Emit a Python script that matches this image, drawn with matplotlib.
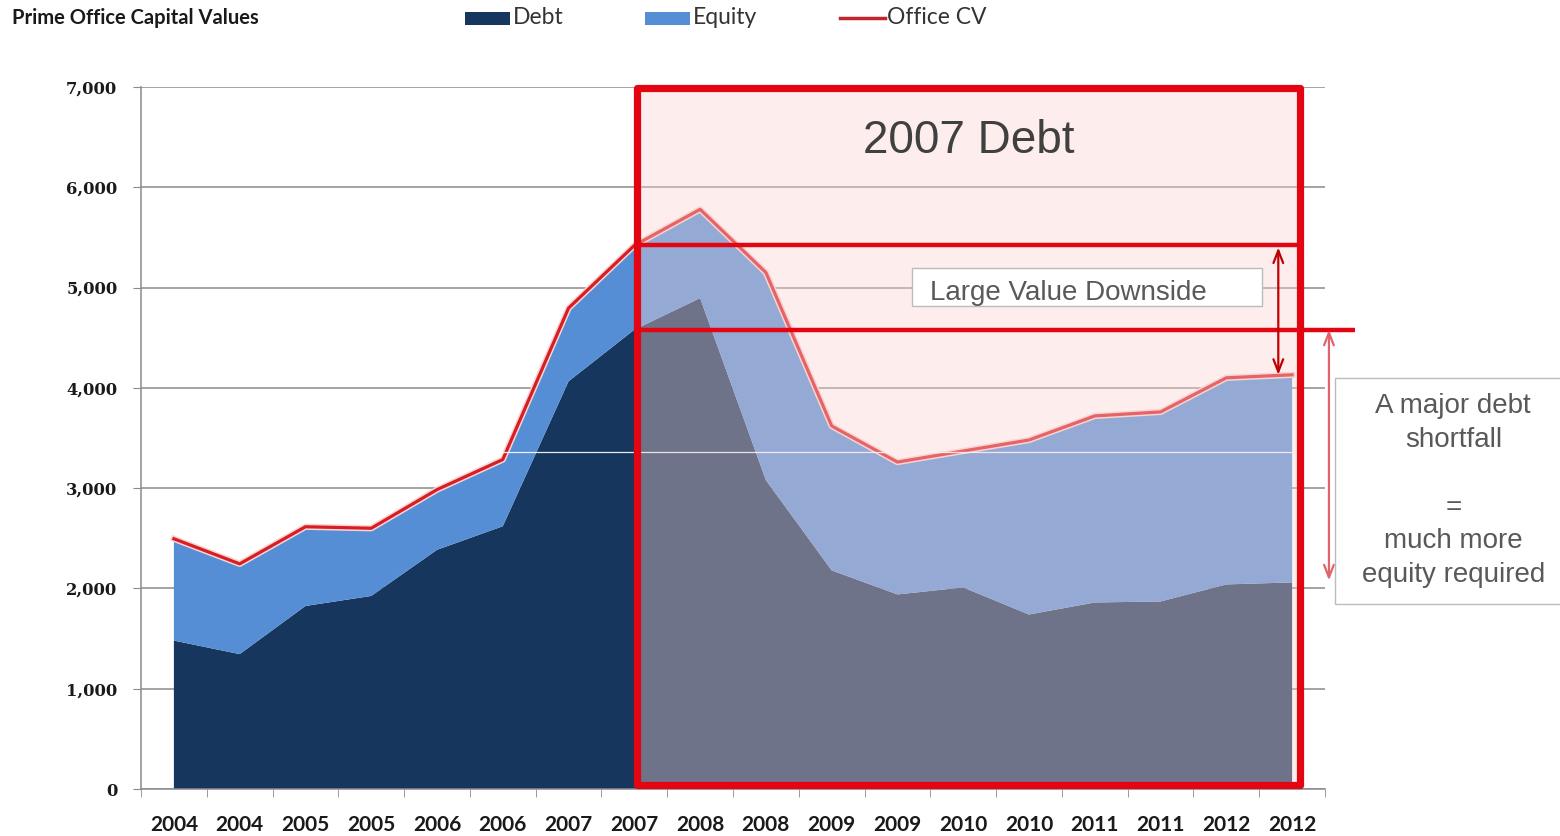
import matplotlib
matplotlib.use("Agg")
import matplotlib.pyplot as plt
from matplotlib.patches import Rectangle
from matplotlib.lines import Line2D
import matplotlib.patheffects as pe
import numpy as np

# ---------------- data ----------------
periods = ["2004", "2004", "2005", "2005", "2006", "2006", "2007", "2007", "2008",
           "2008", "2009", "2009", "2010", "2010", "2011", "2011", "2012", "2012"]
debt = [1480, 1345, 1825, 1925, 2385, 2620, 4065, 4580, 4895,
        3080, 2180, 1940, 2010, 1740, 1860, 1870, 2040, 2060]
office_cv = [2495, 2245, 2615, 2600, 2985, 3285, 4795, 5420, 5780,
             5150, 3620, 3260, 3370, 3480, 3720, 3760, 4100, 4130]
y_ticks = [0, 1000, 2000, 3000, 4000, 5000, 6000, 7000]

equity = [c - d for c, d in zip(office_cv, debt)]

NAVY = "#17365d"
BLUE = "#558ed5"
LINE_RED = "#d81e25"
BOX_RED = "#e30612"
GRID = "#8a8a8a"
TXT = "#595959"

W, H = 1560, 836
fig = plt.figure(figsize=(W / 100, H / 100), dpi=100)
ax = fig.add_axes([141 / W, 1 - 789 / H, (1325 - 141) / W, (789 - 87) / H])

x = np.arange(len(periods))
ax.stackplot(x, debt, equity, colors=[NAVY, BLUE], zorder=1, linewidth=0)
ax.plot(x, office_cv, color=LINE_RED, lw=2.3, zorder=2,
        path_effects=[pe.Stroke(linewidth=4.5, foreground="#f8d4d4"), pe.Normal()])

ax.set_xlim(-0.5, len(periods) - 0.5)
ax.set_ylim(0, 7000)

# grid
ax.set_yticks(y_ticks)
ax.set_yticklabels([f"{v:,}" for v in y_ticks], family="DejaVu Serif", fontsize=11.8,
                   fontweight="bold", color="#1a1a1a")
ax.yaxis.grid(True, color=GRID, lw=1.1, zorder=0)
ax.set_axisbelow(True)

ax.set_xticks(x)
ax.set_xticklabels(periods, family="Lato", fontweight="bold", fontsize=15, color="#1a1a1a")
ax.set_xticks(np.arange(-0.5, len(periods), 1), minor=True)
ax.tick_params(axis="x", which="major", length=0, pad=19)
ax.tick_params(axis="x", which="minor", length=6, color=GRID, direction="out")
ax.tick_params(axis="y", length=6, color=GRID, pad=11)

for s in ["top", "right"]:
    ax.spines[s].set_visible(False)
for s in ["left", "bottom"]:
    ax.spines[s].set_color(GRID)
    ax.spines[s].set_linewidth(1.1)

# thin white artifact line across the chart
ax.axhline(3360, color="white", lw=0.9, zorder=2.5, alpha=0.9)

# ------------- 2007 Debt overlay box -------------
i07 = 7
bx0, bx1 = i07 + 0.04, len(periods) - 1 + 0.12
ax.add_patch(Rectangle((bx0, 0), bx1 - bx0, 7000, facecolor=(250 / 255, 212 / 255, 210 / 255),
                       alpha=0.39, edgecolor="none", zorder=3, clip_on=False))
ax.add_patch(Rectangle((bx0, 40), bx1 - bx0, 6950, facecolor="none", edgecolor=BOX_RED,
                       lw=5.2, zorder=5, clip_on=False, joinstyle="round"))

ax.plot([bx0, bx1], [office_cv[i07], office_cv[i07]], color=BOX_RED, lw=3.2, zorder=5,
        solid_capstyle="butt", clip_on=False)
ax.plot([bx0, 17.96], [debt[i07], debt[i07]], color=BOX_RED, lw=3.2, zorder=5,
        solid_capstyle="butt", clip_on=False)

ax.text((bx0 + bx1) / 2, 6460, "2007 Debt", ha="center", va="center", fontsize=33,
        family="Liberation Sans", color="#404040", zorder=6)

# arrows
ax.annotate("", xy=(16.79, office_cv[-1]), xytext=(16.79, office_cv[i07] - 20),
            arrowprops=dict(arrowstyle="<->,head_length=0.9,head_width=0.35",
                            color="#c00000", lw=1.6, shrinkA=0, shrinkB=0),
            zorder=6, annotation_clip=False)
ax.annotate("", xy=(17.56, debt[-1] + 20), xytext=(17.56, debt[i07]),
            arrowprops=dict(arrowstyle="<->,head_length=0.9,head_width=0.35",
                            color="#e2636c", lw=1.6, shrinkA=0, shrinkB=0),
            zorder=6, annotation_clip=False)

# text boxes
ax.add_patch(Rectangle((11.22, 4816), 16.54 - 11.22, 5195 - 4816, facecolor="white",
                       edgecolor="#bcbcbc", lw=1.0, zorder=6, clip_on=False))
ax.text(11.50, 4950, "Large Value Downside", ha="left", va="center", fontsize=20,
        family="Liberation Sans", color=TXT, zorder=7)

ax.add_patch(Rectangle((17.65, 1845), 4.0, 4098 - 1845, facecolor="white",
                       edgecolor="#bcbcbc", lw=1.0, zorder=6, clip_on=False))
ax.text(19.45, 2975, "A major debt\nshortfall\n\n=\nmuch more\nequity required",
        ha="center", va="center", fontsize=20, family="Liberation Sans", color=TXT,
        linespacing=1.39, zorder=7)

# ------------- header / legend -------------
def fx(px):
    return px / W

def fy(py):
    return 1 - py / H

fig.text(fx(12), fy(18), "Prime Office Capital Values", fontsize=14.5, fontweight="bold",
         family="Lato", color="#1a1a1a", va="center", ha="left")
fig.patches.append(Rectangle((fx(465), fy(25)), fx(510) - fx(465), fy(12) - fy(25),
                             transform=fig.transFigure, facecolor=NAVY, edgecolor="none"))
fig.text(fx(513), fy(18), "Debt", fontsize=16.5, family="Lato", color="#333333",
         va="center", ha="left")
fig.patches.append(Rectangle((fx(645), fy(25)), fx(690) - fx(645), fy(12) - fy(25),
                             transform=fig.transFigure, facecolor=BLUE, edgecolor="none"))
fig.text(fx(693), fy(18), "Equity", fontsize=16.5, family="Lato", color="#333333",
         va="center", ha="left")
fig.lines.append(Line2D([fx(840), fx(885)], [fy(18), fy(18)], transform=fig.transFigure,
                        color="#c0262d", lw=2.5))
fig.text(fx(887), fy(18), "Office CV", fontsize=16.5, family="Lato", color="#333333",
         va="center", ha="left")

fig.savefig("out.png", dpi=100, facecolor="white")
